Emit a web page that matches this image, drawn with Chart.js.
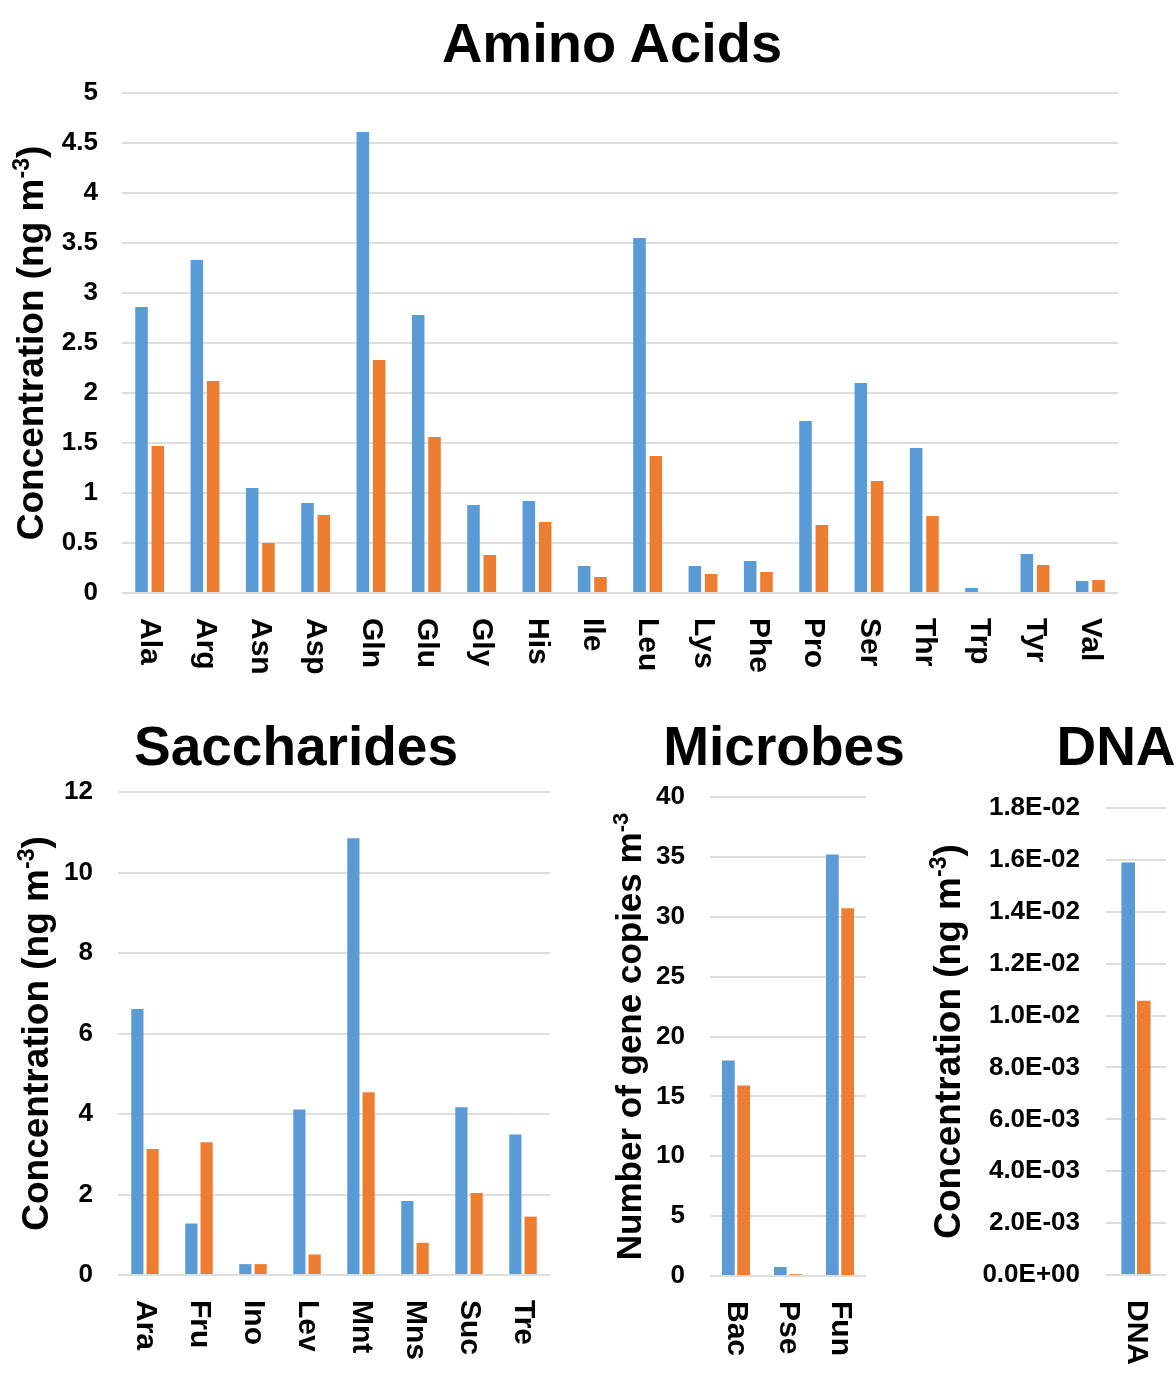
<!DOCTYPE html>
<html>
<head>
<meta charset="utf-8">
<script src="https://cdn.jsdelivr.net/npm/chart.js@4.4.1/dist/chart.umd.min.js"></script>
<style>
  body { margin: 0; width: 1176px; height: 1376px; overflow: hidden; position: relative; background: #fff;
         font-family: "Liberation Sans", Arial, sans-serif; }
  canvas { position: absolute; }
  .title { position: absolute; font-weight: bold; white-space: nowrap; color: #000; transform: translateX(-50%); }
</style>
</head>
<body>
<div class="title" style="left:612px; top:15px; font-size:56px; line-height:56px;">Amino Acids</div>
<div class="title" style="left:296px; top:719px; font-size:55px; line-height:55px;">Saccharides</div>
<div class="title" style="left:784px; top:719px; font-size:55px; line-height:55px;">Microbes</div>
<div class="title" style="left:1116px; top:719px; font-size:55px; line-height:55px;">DNA</div>

<canvas id="aminoChart" width="1140" height="620" style="left:0; top:80px;"></canvas>
<canvas id="sacchChart" width="570" height="676" style="left:0; top:700px;"></canvas>
<canvas id="microbeChart" width="300" height="676" style="left:580px; top:700px;"></canvas>
<canvas id="dnaChart" width="276" height="676" style="left:900px; top:700px;"></canvas>

<script>
const FONT = '"Liberation Sans", Arial, sans-serif';
const BLUE = '#5b9bd5';
const ORANGE = '#ed7d31';
const GRID = '#dedede';

// Amino acids (ng m-3)
const aminoLabels = ['Ala', 'Arg', 'Asn', 'Asp', 'Gln', 'Glu', 'Gly', 'His', 'Ile', 'Leu', 'Lys', 'Phe', 'Pro', 'Ser', 'Thr', 'Trp', 'Tyr', 'Val'];
const aminoBlue = [2.86, 3.33, 1.05, 0.90, 4.61, 2.78, 0.88, 0.92, 0.27, 3.55, 0.27, 0.32, 1.72, 2.10, 1.45, 0.05, 0.39, 0.12];
const aminoOrange = [1.47, 2.12, 0.50, 0.78, 2.33, 1.56, 0.38, 0.71, 0.16, 1.37, 0.19, 0.21, 0.68, 1.12, 0.77, 0, 0.28, 0.13];

// Saccharides (ng m-3)
const sacchLabels = ['Ara', 'Fru', 'Ino', 'Lev', 'Mnt', 'Mns', 'Suc', 'Tre'];
const sacchBlue = [6.61, 1.28, 0.27, 4.11, 10.85, 1.84, 4.17, 3.49];
const sacchOrange = [3.13, 3.30, 0.27, 0.51, 4.54, 0.80, 2.04, 1.45];

// Microbes (gene copies m-3)
const microbeLabels = ['Bac', 'Pse', 'Fun'];
const microbeBlue = [18.0, 0.75, 35.2];
const microbeOrange = [15.9, 0.15, 30.7];

// DNA (ng m-3)
const dnaLabels = ['DNA'];
const dnaBlue = [0.0159];
const dnaOrange = [0.01057];
const dnaTicks = ['0.0E+00', '2.0E-03', '4.0E-03', '6.0E-03', '8.0E-03', '1.0E-02', '1.2E-02', '1.4E-02', '1.6E-02', '1.8E-02'];

// category labels turned a quarter clockwise, read top to bottom
const xLabelPlugin = {
  id: 'xLabels',
  afterDraw(chart) {
    const ctx = chart.ctx;
    const xs = chart.scales.x;
    ctx.save();
    ctx.font = 'bold 30px ' + FONT;
    ctx.fillStyle = '#000';
    ctx.textAlign = 'left';
    ctx.textBaseline = 'middle';
    chart.data.labels.forEach((lab, i) => {
      ctx.save();
      ctx.translate(xs.getPixelForValue(i), xs.top + 25);
      ctx.rotate(Math.PI / 2);
      ctx.fillText(lab, 0, 0);
      ctx.restore();
    });
    ctx.restore();
  }
};

// y axis title with a superscript
const yTitlePlugin = {
  id: 'yTitle',
  afterDraw(chart, args, o) {
    if (!o || !o.main) return;
    const ctx = chart.ctx;
    const area = chart.chartArea;
    const big = 'bold ' + o.size + 'px ' + FONT;
    const small = 'bold ' + Math.round(o.size * 0.62) + 'px ' + FONT;
    ctx.save();
    ctx.fillStyle = '#000';
    ctx.textAlign = 'left';
    ctx.textBaseline = 'alphabetic';
    ctx.font = big;
    const w1 = ctx.measureText(o.main).width;
    const w3 = ctx.measureText(o.tail).width;
    ctx.font = small;
    const w2 = ctx.measureText(o.sup).width;
    const total = w1 + w2 + w3;
    ctx.translate(o.x, (area.top + area.bottom) / 2);
    ctx.rotate(-Math.PI / 2);
    let cx = -total / 2;
    ctx.font = big;
    ctx.fillText(o.main, cx, 0);
    cx += w1;
    ctx.font = small;
    ctx.fillText(o.sup, cx, -o.size * 0.38);
    cx += w2;
    ctx.font = big;
    ctx.fillText(o.tail, cx, 0);
    ctx.restore();
  }
};

function makeChart(id, labels, blue, orange, cfg) {
  return new Chart(document.getElementById(id), {
    type: 'bar',
    data: {
      labels: labels,
      datasets: [
        { label: 'Series 1', data: blue, backgroundColor: BLUE, categoryPercentage: cfg.cat, barPercentage: cfg.bar },
        { label: 'Series 2', data: orange, backgroundColor: ORANGE, categoryPercentage: cfg.cat, barPercentage: cfg.bar }
      ]
    },
    options: {
      responsive: false,
      animation: false,
      devicePixelRatio: 1,
      layout: { padding: cfg.pad },
      plugins: {
        legend: { display: false },
        tooltip: { enabled: false },
        yTitle: cfg.yTitle
      },
      scales: {
        x: {
          grid: { display: false },
          border: { display: false },
          ticks: { display: false },
          afterFit: s => { s.height = cfg.xh; }
        },
        y: {
          min: 0,
          max: cfg.max,
          grid: { color: GRID, lineWidth: 2, drawTicks: false },
          border: { display: false },
          ticks: {
            stepSize: cfg.step,
            padding: cfg.tickPad,
            color: '#000',
            font: { family: FONT, size: cfg.tickSize, weight: 'bold', lineHeight: 1 },
            callback: cfg.fmt
          },
          afterFit: s => {
            s.width = cfg.yw;
            // tick padding would otherwise push the plot down
            s.paddingTop = 0;
            s.paddingBottom = 0;
          }
        }
      }
    },
    plugins: [xLabelPlugin, yTitlePlugin]
  });
}

makeChart('aminoChart', aminoLabels, aminoBlue, aminoOrange, {
  cat: 0.59, bar: 0.77, max: 5, step: 0.5, tickSize: 26, tickPad: 24,
  pad: { left: 0, top: 13, right: 22, bottom: 0 }, yw: 122, xh: 107,
  yTitle: { main: 'Concentration (ng m', sup: '-3', tail: ')', size: 37, x: 43 }
});

makeChart('sacchChart', sacchLabels, sacchBlue, sacchOrange, {
  cat: 0.565, bar: 0.8, max: 12, step: 2, tickSize: 26, tickPad: 25,
  pad: { left: 0, top: 92, right: 20, bottom: 0 }, yw: 118, xh: 101,
  yTitle: { main: 'Concentration (ng m', sup: '-3', tail: ')', size: 37, x: 48 }
});

makeChart('microbeChart', microbeLabels, microbeBlue, microbeOrange, {
  cat: 0.59, bar: 0.83, max: 40, step: 5, tickSize: 26, tickPad: 25,
  pad: { left: 0, top: 97, right: 14, bottom: 0 }, yw: 130, xh: 100,
  yTitle: { main: 'Number of gene copies m', sup: '-3', tail: '', size: 35, x: 61 }
});

makeChart('dnaChart', dnaLabels, dnaBlue, dnaOrange, {
  cat: 0.52, bar: 0.87, max: 0.018, step: 0.002, tickSize: 26, tickPad: 26,
  pad: { left: 0, top: 108, right: 10, bottom: 0 }, yw: 206, xh: 101,
  fmt: (v, i) => dnaTicks[i],
  yTitle: { main: 'Concentration (ng m', sup: '-3', tail: ')', size: 37, x: 60 }
});
</script>
</body>
</html>
